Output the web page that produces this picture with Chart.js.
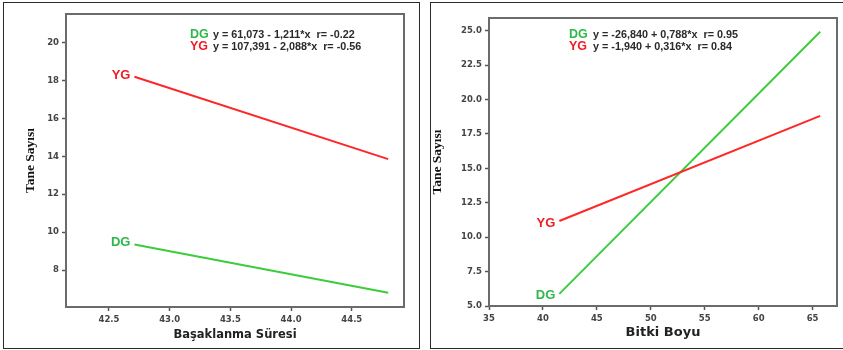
<!DOCTYPE html>
<html><head><meta charset="utf-8">
<script src="https://cdn.jsdelivr.net/npm/chart.js@4"></script>
<style>
html,body{margin:0;padding:0;background:#fff;width:843px;height:350px;overflow:hidden;}
.panel{position:absolute;top:2px;height:345px;border:1.5px solid #2a2a2a;box-sizing:content-box;}
#p1{left:3px;width:415px;}
#p2{left:430px;width:420px;}
canvas{position:absolute;top:0;}
#c1{left:0;}
#c2{left:425px;}
</style></head>
<body>
<div class="panel" id="p1"></div>
<div class="panel" id="p2"></div>
<canvas id="c1" width="420" height="350"></canvas>
<canvas id="c2" width="418" height="350"></canvas>
<script>
// ---- data ----
const seriesNames = ['YG', 'DG'];
// left panel: Başaklanma Süresi
const leftX = [42.71, 44.80];
const leftYG = [18.20, 13.85];
const leftDG = [9.35, 6.80];
const leftXTicks = [42.5, 43.0, 43.5, 44.0, 44.5];
const leftYTicks = [8, 10, 12, 14, 16, 18, 20];
const leftEquations = ['y = 61,073 - 1,211*x  r= -0.22', 'y = 107,391 - 2,088*x  r= -0.56'];
// right panel: Bitki Boyu
const rightX = [41.52, 65.70];
const rightYG = [11.18, 18.82];
const rightDG = [5.88, 24.93];
const rightXTicks = [35, 40, 45, 50, 55, 60, 65];
const rightYTicks = [5.0, 7.5, 10.0, 12.5, 15.0, 17.5, 20.0, 22.5, 25.0];
const rightEquations = ['y = -26,840 + 0,788*x  r= 0.95', 'y = -1,940 + 0,316*x  r= 0.84'];
const yTitle = 'Tane Sayısı';
const leftXTitle = 'Başaklanma Süresi';
const rightXTitle = 'Bitki Boyu';

const RED = '#ff2626', GREEN = '#3ccc3c';
const RED_T = '#ee1c24', GREEN_T = '#2db84a';
const pts = (xs, ys) => xs.map((v, i) => ({x: v, y: ys[i]}));

const decor = {
  id: 'decor',
  afterDatasetsDraw(chart, args, o) {
    const {ctx, chartArea: a, scales: {x, y}} = chart;
    ctx.save();
    ctx.strokeStyle = '#6b6b6b'; ctx.lineWidth = 2;
    ctx.strokeRect(a.left, a.top, a.right - a.left, a.bottom - a.top);
    ctx.textBaseline = 'middle';
    chart.data.datasets.forEach(ds => {
      const p = ds.data[0];
      ctx.font = 'bold 13px "Liberation Sans"';
      ctx.fillStyle = ds.textColor; ctx.textAlign = 'right';
      ctx.fillText(ds.label, x.getPixelForValue(p.x) - 4, y.getPixelForValue(p.y) + ds.labelDy);
    });
    ctx.textAlign = 'left';
    const names = ['DG', 'YG'], cols = [GREEN_T, RED_T];
    o.eq.forEach((t, i) => {
      const yy = a.top + o.y0 + i * 12;
      ctx.font = 'bold 12.5px "Liberation Sans"'; ctx.fillStyle = cols[i];
      ctx.fillText(names[i], a.left + o.x0, yy);
      ctx.font = 'bold 10.8px "Liberation Sans"'; ctx.fillStyle = '#2a2a2a';
      ctx.fillText(t, a.left + o.x0 + o.dx, yy);
    });
    ctx.restore();
  }
};

function makeChart(id, cfg) {
  const tickFont = {family: 'DejaVu Sans', weight: 'bold', size: 8.5};
  return new Chart(document.getElementById(id), {
    type: 'scatter',
    data: {datasets: [
      {label: 'YG', data: pts(cfg.xs, cfg.yg), borderColor: RED, textColor: RED_T, labelDy: cfg.dyYG},
      {label: 'DG', data: pts(cfg.xs, cfg.dg), borderColor: GREEN, textColor: GREEN_T, labelDy: cfg.dyDG}
    ].map(d => Object.assign(d, {showLine: true, pointRadius: 0, borderWidth: 2, backgroundColor: d.borderColor}))},
    options: {
      responsive: false, animation: false, devicePixelRatio: 1,
      layout: {padding: cfg.pad},
      plugins: {legend: {display: false}, tooltip: {enabled: false}, decor: {eq: cfg.eq, x0: cfg.ex, dx: cfg.edx, y0: cfg.ey}},
      scales: {
        x: {
          type: 'linear', min: cfg.xmin, max: cfg.xmax,
          afterBuildTicks: s => { s.ticks = cfg.xt.map(v => ({value: v})); },
          afterFit: s => { s.height = cfg.xh; },
          grid: {display: true, drawOnChartArea: false, drawTicks: true, tickLength: 4, tickColor: '#555', tickWidth: 1.5},
          border: {display: false},
          ticks: {font: tickFont, color: '#444', padding: 4, maxRotation: 0, callback: cfg.xfmt},
          title: {display: true, text: cfg.xtitle, color: '#222', font: {family: 'DejaVu Sans', weight: 'bold', size: cfg.xts}, padding: {top: 0, bottom: cfg.xtb}}
        },
        y: {
          type: 'linear', min: cfg.ymin, max: cfg.ymax,
          afterBuildTicks: s => { s.ticks = cfg.yt.map(v => ({value: v})); },
          afterFit: s => { s.width = cfg.yw; },
          grid: {display: true, drawOnChartArea: false, drawTicks: true, tickLength: 4, tickColor: '#555', tickWidth: 1.5},
          border: {display: false},
          ticks: {font: tickFont, color: '#444', padding: 3, callback: cfg.yfmt},
          title: {display: true, text: yTitle, color: '#111', font: {family: 'Liberation Serif', weight: 'bold', size: 13.5}, padding: {top: cfg.ytp, bottom: 0}}
        }
      }
    },
    plugins: [decor]
  });
}

makeChart('c1', {
  xs: leftX, yg: leftYG, dg: leftDG, xt: leftXTicks, yt: leftYTicks, eq: leftEquations,
  xmin: 42.146, xmax: 44.93, ymin: 6.05, ymax: 21.51,
  pad: {top: 14, right: 16, bottom: 0, left: 0}, xh: 43, yw: 66,
  xfmt: v => Number(v).toFixed(1), yfmt: v => String(v),
  xtitle: leftXTitle, xts: 11.5, xtb: 8, ytp: 22,
  ex: 124, edx: 23, ey: 21, dyYG: -1, dyDG: -2
});
makeChart('c2', {
  xs: rightX, yg: rightYG, dg: rightDG, xt: rightXTicks, yt: rightYTicks, eq: rightEquations,
  xmin: 35, xmax: 67.26, ymin: 5.0, ymax: 25.93,
  pad: {top: 18, right: 6, bottom: 0, left: 0}, xh: 44, yw: 64,
  xfmt: v => String(v), yfmt: v => Number(v).toFixed(1),
  xtitle: rightXTitle, xts: 13, xtb: 10, ytp: 4,
  ex: 80, edx: 24, ey: 17, dyYG: 2, dyDG: 2
});
</script>
</body></html>
